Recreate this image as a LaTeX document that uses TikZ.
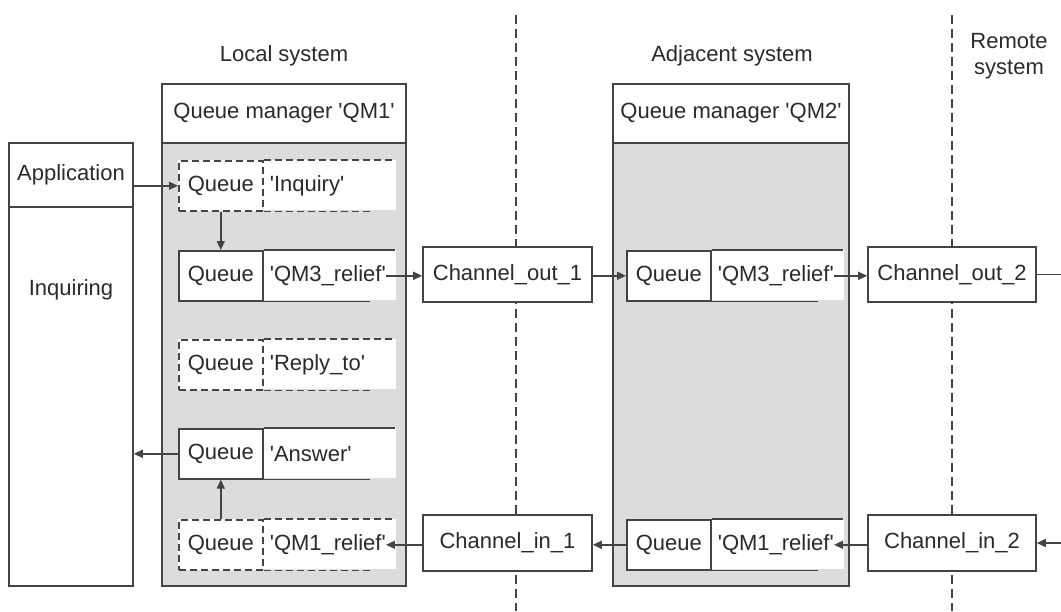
\documentclass[tikz,border=0pt]{standalone}
\usepackage{fontspec}
\setmainfont{Liberation Sans}
\usetikzlibrary{arrows.meta}
\definecolor{ln}{HTML}{444444}
\definecolor{tx}{HTML}{2A2A2A}
\definecolor{qmfill}{HTML}{DCDCDC}
\newcommand{\sq}{\textquotesingle}
\newcommand{\mkqueue}[5]{%
  \node[qbg, anchor=north west] (#1) at (#2,#3) {};
  \node[qlab, #4, anchor=north west] (#1Q) at (#2,#3) {Queue};
  \node[anchor=west, inner sep=0pt] (#1N) at ([xshift=6pt]#1Q.east) {#5};
  \draw[qline, #4] (#1Q.north east) -- ++(131,0);
  \draw[qline, #4] (#1Q.south east) -- ++(106,0);
}
\begin{document}
\begin{tikzpicture}[x=1pt,y=-1pt,
  every node/.style={font=\fontsize{22}{26}\selectfont, text=tx},
  box/.style={draw=ln, line width=1.6pt, rectangle, inner sep=0pt},
  qbg/.style={rectangle, fill=white, minimum width=218pt, minimum height=50pt, inner sep=0pt},
  qlab/.style={box, fill=white, minimum width=84pt, minimum height=50pt},
  qdash/.style={dash pattern=on 7pt off 4pt},
  qline/.style={draw=ln, line width=1.6pt},
  sep/.style={draw=ln, line width=1.3pt, dash pattern=on 9pt off 5pt},
  arr/.style={draw=ln, line width=1.5pt, -{Triangle[length=9pt,width=8pt]}},
]
\useasboundingbox (0,0) rectangle (1061,611);
\fill[white] (0,0) rectangle (1061,611);

% system separators
\coordinate (s1t) at (516,15);
\coordinate (s1b) at (516,611);
\coordinate (s2t) at (952,15);
\coordinate (s2b) at (952,611);
\draw[sep] (s1t) -- (s1b);
\draw[sep] (s2t) -- (s2b);

% titles
\node (tlocal) at (284,56) {Local system};
\node (tadj) at (732,56) {Adjacent system};
\node[align=center, font=\fontsize{22}{26}\selectfont] (trem) at (1009,56) {Remote\\system};

% application
\node[box, minimum width=124pt, minimum height=64pt] (apph) at (71,175) {Application};
\node[box, minimum width=124pt, minimum height=379pt] (appb) at (71,396.5) {};
\node (inq) at (71,290) {Inquiring};

% queue manager QM1
\node[box, minimum width=244pt, minimum height=59pt] (qm1h) at (284,113.5) {Queue manager \sq QM1\sq};
\node[box, fill=qmfill, minimum width=244pt, minimum height=443pt] (qm1b) at (284,364.5) {};

% queue manager QM2
\node[box, minimum width=236pt, minimum height=59pt] (qm2h) at (731,113.5) {Queue manager \sq QM2\sq};
\node[box, fill=qmfill, minimum width=236pt, minimum height=443pt] (qm2b) at (731,364.5) {};

% queues in QM1
\mkqueue{qinq}{178}{160}{qdash}{\sq Inquiry\sq}
\mkqueue{qrel}{178}{250}{solid}{\sq QM3\_relief\sq}
\mkqueue{qrep}{178}{339}{qdash}{\sq Reply\_to\sq}
\mkqueue{qans}{178}{428}{solid}{\sq Answer\sq}
\mkqueue{qone}{178}{519}{qdash}{\sq QM1\_relief\sq}

% queues in QM2
\mkqueue{qrelb}{626}{250}{solid}{\sq QM3\_relief\sq}
\mkqueue{qoneb}{626}{519}{solid}{\sq QM1\_relief\sq}

% channels
\node[box, fill=white, minimum width=169pt, minimum height=55pt] (co1) at (507.5,274.5) {Channel\_out\_1};
\node[box, fill=white, minimum width=169pt, minimum height=56pt] (ci1) at (507.5,543) {Channel\_in\_1};
\node[box, fill=white, minimum width=168pt, minimum height=55pt] (co2) at (952,274.5) {Channel\_out\_2};
\node[box, fill=white, minimum width=168pt, minimum height=56pt] (ci2) at (952,543) {Channel\_in\_2};

% off-picture ends
\coordinate (edge) at (1070,0);

% connectors
\draw[arr] (apph.east |- qinqQ.west) -- (qinqQ.west);
\draw[arr] (qinqQ.south) -- (qrelQ.north);
\draw[arr] (qrelN.east) -- (co1.west |- qrelN.east);
\draw[arr] (co1.east |- qrelbQ.west) -- (qrelbQ.west);
\draw[arr] (qrelbN.east) -- (co2.west |- qrelbN.east);
\draw[arr] (co2.east) -- (co2.east -| edge);
\draw[arr] (ci2.east -| edge) -- (ci2.east);
\draw[arr] (ci2.west |- qonebN.east) -- (qonebN.east);
\draw[arr] (qonebQ.west) -- (ci1.east |- qonebQ.west);
\draw[arr] (ci1.west |- qoneN.east) -- (qoneN.east);
\draw[arr] (qoneQ.north) -- (qansQ.south);
\draw[arr] (qansQ.west) -- (appb.east |- qansQ.west);
\end{tikzpicture}
\end{document}
